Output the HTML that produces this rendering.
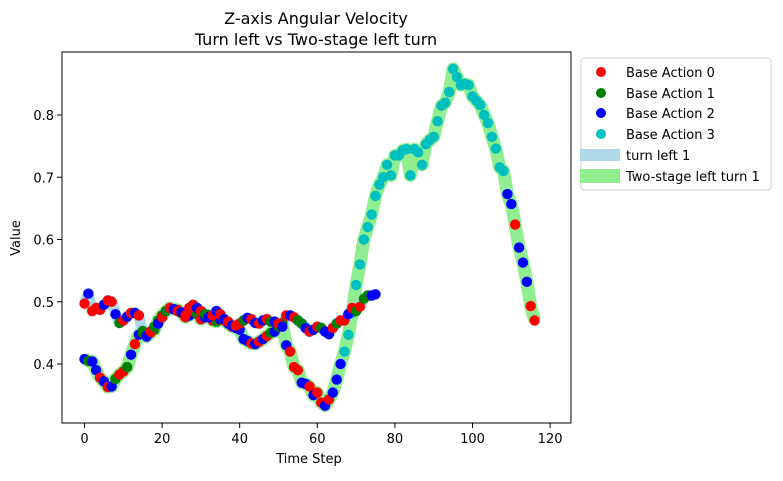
<!DOCTYPE html>
<html><head><meta charset="utf-8"><style>
html,body{margin:0;padding:0;background:#fff;}
svg text{font-family:"DejaVu Sans","Liberation Sans",sans-serif;}
</style></head><body>
<svg id="chart" width="783" height="476" viewBox="0 0 783 476" xmlns="http://www.w3.org/2000/svg">
<rect width="783" height="476" fill="#fff"/>
<g id="lines"></g><g id="points"></g>
<rect x="62" y="52" width="509" height="371" fill="none" stroke="#000" stroke-width="1"/>
<g id="ticks"></g>
<text x="316" y="24" font-size="16" text-anchor="middle">Z-axis Angular Velocity</text>
<text x="316" y="45" font-size="16" text-anchor="middle">Turn left vs Two-stage left turn</text>
<text x="309" y="463" font-size="13" text-anchor="middle">Time Step</text>
<text x="20" y="238" font-size="13" text-anchor="middle" transform="rotate(-90 20 238)">Value</text>
<g>
<rect x="581" y="58" width="190" height="132" rx="3" fill="#fff" stroke="#ccc"/>
<circle cx="601" cy="72" r="5" fill="#ff0000"/>
<text x="626" y="77" font-size="13">Base Action 0</text>
<circle cx="601" cy="93" r="5" fill="#008000"/>
<text x="626" y="98" font-size="13">Base Action 1</text>
<circle cx="601" cy="113" r="5" fill="#0000ff"/>
<text x="626" y="118" font-size="13">Base Action 2</text>
<circle cx="601" cy="134" r="5" fill="#00bfbf"/>
<text x="626" y="139" font-size="13">Base Action 3</text>
<rect x="580" y="149" width="40" height="12" fill="#add8e6"/>
<text x="626" y="160" font-size="13">turn left 1</text>
<rect x="580" y="169" width="40" height="14" fill="#90ee90"/>
<text x="626" y="181" font-size="13">Two-stage left turn 1</text>
</g>
</svg>
<script>
const xTicks=[0,20,40,60,80,100,120];
const yTicks=[0.4,0.5,0.6,0.7,0.8];
const turnLeftValues=[0.497,0.513,0.485,0.49,0.487,0.495,0.502,0.5,0.48,0.466,0.47,0.476,0.482,0.482,0.478,0.45,0.445,0.452,0.46,0.465,0.475,0.485,0.49,0.488,0.485,0.483,0.478,0.49,0.495,0.49,0.485,0.48,0.475,0.478,0.485,0.48,0.472,0.468,0.462,0.462,0.465,0.47,0.474,0.472,0.466,0.465,0.47,0.472,0.468,0.468,0.465,0.46,0.478,0.478,0.475,0.47,0.465,0.458,0.452,0.455,0.46,0.458,0.452,0.448,0.458,0.465,0.47,0.47,0.48,0.49,0.485,0.492,0.505,0.51,0.51,0.512];
const turnLeftActions=[0,2,0,0,0,2,0,0,2,1,0,2,0,2,0,1,2,0,1,2,0,1,0,2,0,2,0,0,0,2,0,1,2,0,2,0,2,0,2,0,0,1,2,0,2,0,2,0,1,2,0,2,0,2,0,1,1,2,0,2,0,1,2,2,0,1,0,0,2,0,1,0,1,1,2,2];
const twoStageValues=[0.408,0.405,0.404,0.39,0.378,0.372,0.363,0.364,0.376,0.383,0.388,0.395,0.415,0.432,0.447,0.453,0.444,0.45,0.455,0.47,0.478,0.485,0.49,0.488,0.487,0.482,0.475,0.478,0.485,0.48,0.472,0.475,0.478,0.47,0.468,0.472,0.47,0.465,0.46,0.458,0.455,0.44,0.437,0.433,0.432,0.436,0.44,0.445,0.45,0.452,0.46,0.466,0.43,0.42,0.395,0.39,0.37,0.368,0.364,0.35,0.354,0.338,0.333,0.343,0.354,0.375,0.4,0.42,0.447,0.482,0.527,0.56,0.6,0.62,0.64,0.67,0.688,0.7,0.72,0.703,0.735,0.735,0.743,0.745,0.703,0.745,0.74,0.72,0.753,0.76,0.765,0.79,0.815,0.82,0.837,0.874,0.861,0.848,0.85,0.848,0.83,0.823,0.816,0.8,0.787,0.765,0.746,0.716,0.71,0.673,0.657,0.624,0.587,0.563,0.532,0.493,0.47];
const twoStageActions=[2,1,2,2,0,2,0,2,1,0,0,1,2,0,2,1,2,0,1,1,1,0,0,2,0,1,0,2,0,1,0,2,2,0,1,2,0,2,0,2,2,2,2,0,2,0,2,0,1,2,1,1,2,0,0,0,2,2,0,2,0,0,2,0,2,2,2,3,3,3,3,3,3,3,3,3,3,3,3,3,3,3,3,3,3,3,3,3,3,3,3,3,3,3,3,3,3,3,3,3,3,3,3,3,3,3,3,3,3,2,2,0,2,2,2,0,0];
const colors=["#ff0000","#008000","#0000ff","#00bfbf"];
const xs=t=>84.5+t*3.88;
const ys=v=>301.75-(v-0.5)*622.5;
const NS="http://www.w3.org/2000/svg";
const gl=document.getElementById('lines'),gp=document.getElementById('points'),gt=document.getElementById('ticks');
function mkLine(vals,color,w,name){
  const p=document.createElementNS(NS,'polyline');
  p.setAttribute('points',vals.map((v,i)=>xs(i)+','+ys(v)).join(' '));
  p.setAttribute('fill','none');p.setAttribute('stroke',color);p.setAttribute('stroke-width',w);
  p.setAttribute('stroke-linejoin','round');
  
  
  gl.appendChild(p);
}
mkLine(twoStageValues,'#90ee90',13,'two-stage-left-turn-line');
mkLine(turnLeftValues,'#add8e6',11,'turn-left-line');
function mkPts(vals,acts,prefix){
  vals.forEach((v,i)=>{
    const c=document.createElementNS(NS,'circle');
    c.setAttribute('cx',xs(i));c.setAttribute('cy',ys(v));c.setAttribute('r',5.2);
    c.setAttribute('fill',colors[acts[i]]);
    
    
    gp.appendChild(c);
  });
}
mkPts(twoStageValues,twoStageActions,'two-stage');
mkPts(turnLeftValues,turnLeftActions,'turn-left');
xTicks.forEach(t=>{
  const l=document.createElementNS(NS,'line');
  l.setAttribute('x1',xs(t));l.setAttribute('x2',xs(t));l.setAttribute('y1',423);l.setAttribute('y2',428);l.setAttribute('stroke','#000');
  
  
  gt.appendChild(l);
  const tx=document.createElementNS(NS,'text');
  tx.setAttribute('x',xs(t));tx.setAttribute('y',443);tx.setAttribute('font-size',13);tx.setAttribute('text-anchor','middle');
  tx.textContent=t;
  
  
  gt.appendChild(tx);
});
yTicks.forEach(v=>{
  const l=document.createElementNS(NS,'line');
  l.setAttribute('x1',57);l.setAttribute('x2',62);l.setAttribute('y1',ys(v));l.setAttribute('y2',ys(v));l.setAttribute('stroke','#000');
  
  
  gt.appendChild(l);
  const tx=document.createElementNS(NS,'text');
  tx.setAttribute('x',54);tx.setAttribute('y',ys(v)+5);tx.setAttribute('font-size',13);tx.setAttribute('text-anchor','end');
  tx.textContent=v.toFixed(1);
  
  
  gt.appendChild(tx);
});
</script>
</body></html>
